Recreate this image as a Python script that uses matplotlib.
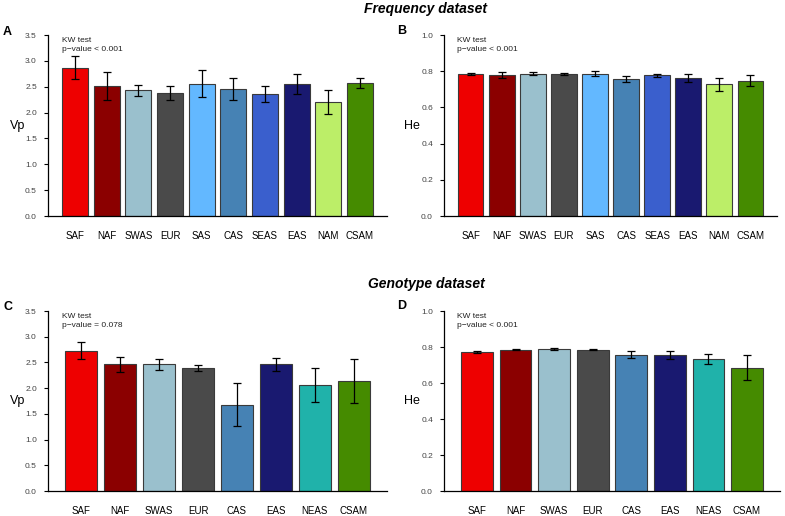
import matplotlib
matplotlib.use("Agg")
import matplotlib.pyplot as plt
import numpy as np

plt.rcParams['font.family'] = ['Liberation Sans', 'DejaVu Sans']

# ---- data ----
freq_pops = ["SAF", "NAF", "SWAS", "EUR", "SAS", "CAS", "SEAS", "EAS", "NAM", "CSAM"]
freq_vp = [2.87, 2.52, 2.43, 2.38, 2.56, 2.45, 2.36, 2.55, 2.21, 2.57]
freq_vp_err = [0.23, 0.27, 0.10, 0.13, 0.26, 0.21, 0.16, 0.19, 0.23, 0.09]
freq_he = [0.785, 0.780, 0.787, 0.784, 0.785, 0.757, 0.777, 0.761, 0.727, 0.747]
freq_he_err = [0.007, 0.016, 0.006, 0.004, 0.014, 0.019, 0.009, 0.022, 0.034, 0.030]

geno_pops = ["SAF", "NAF", "SWAS", "EUR", "CAS", "EAS", "NEAS", "CSAM"]
geno_vp = [2.73, 2.46, 2.46, 2.39, 1.68, 2.46, 2.06, 2.14]
geno_vp_err = [0.16, 0.15, 0.10, 0.06, 0.42, 0.13, 0.33, 0.42]
geno_he = [0.773, 0.786, 0.788, 0.786, 0.758, 0.756, 0.734, 0.685]
geno_he_err = [0.006, 0.003, 0.006, 0.003, 0.019, 0.021, 0.027, 0.071]

pop_colors = {
    "SAF": "#EE0000", "NAF": "#8B0000", "SWAS": "#9AC0CD", "EUR": "#4A4A4A",
    "SAS": "#63B8FF", "CAS": "#4682B4", "SEAS": "#3A5FCD", "EAS": "#191970",
    "NAM": "#BCEE68", "CSAM": "#458B00", "NEAS": "#20B2AA",
}

W, H = 785, 516
fig = plt.figure(figsize=(W / 100, H / 100), dpi=100)


def ax_at(x0, x1, ytop, ybot):
    return fig.add_axes([x0 / W, 1 - ybot / H, (x1 - x0) / W, (ybot - ytop) / H])


def draw(ax, pops, vals, errs, ymax, step, ylabel, kw, letter, lx, ly, ylx):
    x = np.arange(len(pops))
    ax.bar(x, vals, width=0.82, color=[pop_colors[p] for p in pops],
           edgecolor="#3a3a3a", linewidth=0.8, zorder=2)
    ax.errorbar(x, vals, yerr=errs, fmt="none", ecolor="black", elinewidth=0.9,
                capsize=2.8, capthick=0.9, zorder=3)
    ax.set_xlim(-0.86, len(pops) - 1 + 0.86)
    ax.set_ylim(0, ymax)
    ax.set_yticks(np.arange(0, ymax + 1e-9, step))
    ax.yaxis.set_major_formatter(matplotlib.ticker.FormatStrFormatter("%.1f"))
    ax.set_xticks(x)
    ax.set_xticklabels(pops)
    ax.tick_params(axis="x", length=0, pad=11, labelsize=7, colors="black")
    ax.tick_params(axis="y", length=3, width=0.8, labelsize=6, labelcolor="#444444",
                   pad=5, direction="out")
    for s in ["top", "right"]:
        ax.spines[s].set_visible(False)
    for s in ["left", "bottom"]:
        ax.spines[s].set_linewidth(0.9)
        ax.spines[s].set_color("black")
    ax.text(0.04, 0.99, "KW test\n" + kw, transform=ax.transAxes, fontsize=6,
            va="top", ha="left", linespacing=1.35, color="#222222")
    fig.text(lx / W, 1 - ly / H, letter, fontsize=9, fontweight="bold",
             ha="left", va="center")
    yl = ax.get_position()
    fig.text(ylx / W, (yl.y0 + yl.y1) / 2, ylabel, fontsize=9, ha="center", va="center")


axA = ax_at(48, 387, 35, 216)
draw(axA, freq_pops, freq_vp, freq_vp_err, 3.5, 0.5, "Vp", "p\u2212value < 0.001",
     "A", 3, 32, 18)
axB = ax_at(444, 777, 35, 216)
draw(axB, freq_pops, freq_he, freq_he_err, 1.0, 0.2, "He", "p\u2212value < 0.001",
     "B", 397, 31, 412)
axC = ax_at(48, 387, 311, 491)
draw(axC, geno_pops, geno_vp, geno_vp_err, 3.5, 0.5, "Vp", "p\u2212value = 0.078",
     "C", 3, 307, 18)
axD = ax_at(444, 780, 311, 491)
draw(axD, geno_pops, geno_he, geno_he_err, 1.0, 0.2, "He", "p\u2212value < 0.001",
     "D", 397, 306, 412)

fig.text(426 / W, 1 - 9 / H, "Frequency dataset", fontsize=10, fontweight="bold",
         fontstyle="italic", ha="center", va="center")
fig.text(426 / W, 1 - 284 / H, "Genotype dataset", fontsize=10, fontweight="bold",
         fontstyle="italic", ha="center", va="center")

fig.savefig("out.png", dpi=100)
